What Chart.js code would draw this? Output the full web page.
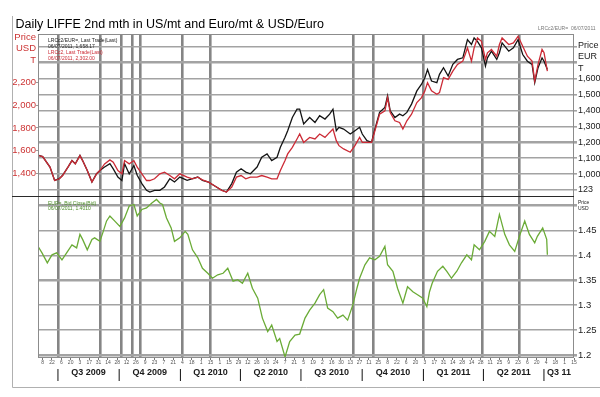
<!DOCTYPE html>
<html>
<head>
<meta charset="utf-8">
<script src="https://cdn.jsdelivr.net/npm/chart.js@4.4.0/dist/chart.umd.min.js"></script>
<style>
  html, body { margin: 0; padding: 0; background: #fff; }
</style>
</head>
<body>
<canvas id="myChart" width="600" height="397"></canvas>
<script>
/* globals Chart:false */

// weekly readings of the LIFFE 2nd month price, USD/t (red) and EUR/t (black)
var priceDates = [
  '2009-06-02','2009-06-08','2009-06-19','2009-06-26','2009-07-03','2009-07-08','2009-07-16','2009-07-22',
  '2009-07-27','2009-08-03','2009-08-07','2009-08-14','2009-08-21','2009-08-28','2009-09-02','2009-09-09',
  '2009-09-17','2009-09-22','2009-09-29','2009-10-05','2009-10-09','2009-10-16','2009-10-23','2009-10-28',
  '2009-11-04','2009-11-11','2009-11-16','2009-11-23','2009-12-01','2009-12-08','2009-12-16','2009-12-23',
  '2009-12-31','2010-01-11','2010-01-19','2010-01-27','2010-02-03','2010-02-12','2010-02-24','2010-03-04',
  '2010-03-11','2010-03-19','2010-03-26','2010-04-02','2010-04-09','2010-04-16','2010-04-26','2010-05-03',
  '2010-05-11','2010-05-18','2010-05-26','2010-05-31','2010-06-07','2010-06-11','2010-06-18','2010-06-25',
  '2010-06-29','2010-07-05','2010-07-14','2010-07-22','2010-07-29','2010-08-06','2010-08-13','2010-08-18',
  '2010-08-23','2010-08-27','2010-09-03','2010-09-13','2010-09-20','2010-09-27','2010-10-01','2010-10-08',
  '2010-10-15','2010-10-20','2010-10-27','2010-11-04','2010-11-08','2010-11-12','2010-11-19','2010-11-26',
  '2010-12-01','2010-12-07','2010-12-14','2010-12-22','2010-12-29','2011-01-03','2011-01-07','2011-01-13',
  '2011-01-21','2011-01-25','2011-01-31','2011-02-07','2011-02-14','2011-02-21','2011-03-01','2011-03-08',
  '2011-03-14','2011-03-18','2011-03-23','2011-03-29','2011-04-04','2011-04-07','2011-04-13','2011-04-21',
  '2011-04-25','2011-04-29','2011-05-09','2011-05-16','2011-05-23','2011-05-30','2011-06-06','2011-06-13',
  '2011-06-17','2011-06-22','2011-06-28','2011-07-01','2011-07-06'
];
var eurPrice = [
  1117,1110,1044,960,971,992,1044,1085,1065,1117,1085,1023,950,1002,1023,1044,
  1065,1033,981,960,1065,1002,1054,992,940,898,887,898,898,919,971,950,
  981,960,971,981,960,950,919,898,887,940,1012,1033,1012,1002,1044,1106,
  1127,1085,1106,1169,1231,1273,1356,1408,1408,1315,1356,1325,1367,1346,1377,1408,
  1273,1294,1283,1252,1273,1294,1252,1210,1200,1283,1388,1419,1492,1398,1356,1377,
  1367,1388,1440,1523,1565,1606,1658,1585,1575,1627,1669,1617,1690,1721,1731,1846,
  1815,1856,1835,1794,1679,1731,1773,1721,1763,1825,1773,1794,1846,1752,1710,1690,
  1575,1669,1731,1710,1658
];
var usdPrice = [
  1555,1546,1453,1335,1350,1379,1453,1511,1482,1555,1511,1423,1321,1394,1423,1482,
  1517,1497,1423,1394,1511,1482,1511,1453,1394,1335,1335,1350,1394,1409,1379,1350,
  1394,1365,1350,1365,1341,1321,1277,1248,1233,1277,1365,1379,1350,1365,1365,1379,
  1365,1350,1350,1423,1511,1570,1628,1702,1746,1672,1716,1702,1746,1716,1760,1790,
  1687,1643,1614,1585,1643,1716,1672,1672,1672,1775,1921,1951,2068,1936,1863,1848,
  1790,1863,1921,2024,2068,2127,2200,2127,2097,2112,2244,2229,2302,2361,2390,2507,
  2390,2507,2595,2566,2405,2464,2493,2434,2537,2595,2537,2551,2610,2522,2434,2390,
  2214,2361,2493,2464,2302
];

// USD per Euro, lower panel (green)
var fxDates = [
  '2009-06-01','2009-06-07','2009-06-15','2009-06-22','2009-06-29','2009-07-07','2009-07-14','2009-07-22',
  '2009-07-29','2009-08-03','2009-08-07','2009-08-14','2009-08-21','2009-08-25','2009-09-02','2009-09-07',
  '2009-09-12','2009-09-17','2009-09-24','2009-10-02','2009-10-09','2009-10-16','2009-10-23','2009-10-28',
  '2009-11-04','2009-11-11','2009-11-19','2009-11-26','2009-12-01','2009-12-05','2009-12-11','2009-12-18',
  '2009-12-23','2009-12-31','2010-01-08','2010-01-12','2010-01-19','2010-01-27','2010-02-03','2010-02-11',
  '2010-02-18','2010-02-26','2010-03-06','2010-03-13','2010-03-21','2010-03-28','2010-04-04','2010-04-12',
  '2010-04-19','2010-04-27','2010-05-04','2010-05-12','2010-05-18','2010-05-26','2010-05-30','2010-06-07',
  '2010-06-14','2010-06-22','2010-06-29','2010-07-07','2010-07-14','2010-07-22','2010-07-29','2010-08-04',
  '2010-08-10','2010-08-18','2010-08-25','2010-09-02','2010-09-09','2010-09-17','2010-09-23','2010-09-27',
  '2010-10-05','2010-10-12','2010-10-20','2010-10-27','2010-11-04','2010-11-08','2010-11-16','2010-11-23',
  '2010-12-01','2010-12-08','2010-12-16','2010-12-23','2010-12-31','2011-01-06','2011-01-10','2011-01-14',
  '2011-01-22','2011-01-30','2011-02-05','2011-02-12','2011-02-20','2011-02-27','2011-03-07','2011-03-14',
  '2011-03-18','2011-03-26','2011-04-03','2011-04-10','2011-04-18','2011-04-25','2011-05-03','2011-05-10',
  '2011-05-18','2011-05-25','2011-06-02','2011-06-09','2011-06-17','2011-06-21','2011-06-29','2011-07-05',
  '2011-07-06'
];
var usdEur = [
  1.418,1.405,1.385,1.401,1.405,1.391,1.405,1.421,1.415,1.442,1.432,1.411,1.432,1.435,1.428,1.448,
  1.469,1.479,1.469,1.458,1.475,1.499,1.502,1.479,1.492,1.495,1.505,1.512,1.505,1.502,1.475,1.455,
  1.428,1.435,1.448,1.442,1.411,1.395,1.374,1.364,1.354,1.361,1.364,1.374,1.348,1.351,1.344,1.364,
  1.334,1.314,1.274,1.247,1.260,1.227,1.233,1.196,1.227,1.240,1.242,1.274,1.290,1.304,1.321,1.331,
  1.294,1.287,1.274,1.280,1.270,1.301,1.334,1.354,1.381,1.395,1.391,1.398,1.418,1.381,1.368,1.334,
  1.304,1.337,1.327,1.321,1.314,1.297,1.327,1.344,1.368,1.378,1.368,1.354,1.368,1.385,1.401,1.391,
  1.421,1.411,1.428,1.448,1.438,1.482,1.442,1.421,1.408,1.438,1.469,1.442,1.425,1.438,1.455,1.432,
  1.401
];

var xStart = '2009-06-01';
var xEnd = '2011-08-15';
var quarterNames = ['Q3 2009','Q4 2009','Q1 2010','Q2 2010','Q3 2010','Q4 2010','Q1 2011','Q2 2011','Q3 11'];
var quarterStarts = ['2009-07-01','2009-10-01','2010-01-01','2010-04-01','2010-07-01','2010-10-01','2011-01-01','2011-04-01','2011-07-01'];
// the heavy vertical lines across both panels
var markDates = ['2009-07-01','2009-09-02','2009-10-04','2009-10-20','2009-11-02','2010-01-03','2010-02-15',
  '2010-09-17','2010-10-17','2010-12-31','2011-03-31','2011-05-25'];

var usdTicks = [1400, 1600, 1800, 2000, 2200, 2500];
var eurTicks = [900, 1000, 1100, 1200, 1300, 1400, 1500, 1600, 1700, 1800];
var eurLabels = ['123', '1,000', '1,100', '1,200', '1,300', '1,400', '1,500', '1,600', ['Price', 'EUR', 'T', ''], ''];
var fxTicks = [1.2, 1.25, 1.3, 1.35, 1.4, 1.45, 1.5];
var fxLabels = ['1.2', '1.25', '1.3', '1.35', '1.4', '1.45', ['Price', 'USD']];

var legendLines = [
  ['LRCc2/EUR=, Last Trade(Last)', '#222'],
  ['06/07/2011, 1,658.17', '#222'],
  ['LRCc2, Last Trade(Last)', '#cc2b36'],
  ['06/07/2011, 2,302.00', '#cc2b36']
];
var fxLegendLines = ['EUR=, Bid Close(Bid)', '06/07/2011, 1.4010'];


function day(s) {
  return (Date.parse(s) - Date.parse('2009-07-01')) / 864e5;
}

function pts(dates, values) {
  return dates.map(function (d, i) {
    return {x: day(d), y: values[i]};
  });
}

function tickList(values) {
  return values.map(function (v) { return {value: v}; });
}

// small date ticks every two weeks
var smallTicks = [];
for (var t = day('2009-06-08'); t <= day(xEnd); t += 14) {
  smallTicks.push(t);
}

// quarter separators and quarter names
var quarterTicks = [];
quarterStarts.forEach(function (q, i) {
  var a = day(q);
  var b = i + 1 < quarterStarts.length ? day(quarterStarts[i + 1]) : day(xEnd);
  quarterTicks.push({value: a, text: '|', sep: true});
  quarterTicks.push({value: (a + b) / 2, text: quarterNames[i], sep: false});
});

var framePlugin = {
  id: 'frame',
  beforeDraw: function (chart) {
    var ctx = chart.ctx;
    ctx.save();
    ctx.fillStyle = '#fff';
    ctx.fillRect(0, 0, chart.width, chart.height);
    ctx.restore();
  },
  afterDraw: function (chart) {
    var ctx = chart.ctx;
    var a = chart.chartArea;
    var split = Math.round(chart.scales.fx.top) + 0.5;
    ctx.save();
    // outer frame
    ctx.strokeStyle = '#b0b0b0';
    ctx.lineWidth = 1;
    ctx.beginPath();
    ctx.moveTo(12.5, 16);
    ctx.lineTo(12.5, 387.5);
    ctx.lineTo(600, 387.5);
    ctx.stroke();
    // plot border
    ctx.strokeStyle = '#8c8c8c';
    ctx.strokeRect(a.left + 0.5, a.top + 0.5, a.width - 1, a.height - 1);
    // line between the panels
    ctx.strokeStyle = '#2a2a2a';
    ctx.lineWidth = 1.2;
    ctx.beginPath();
    ctx.moveTo(12, split);
    ctx.lineTo(a.right, split);
    ctx.stroke();
    // legends
    ctx.font = '5px Arial';
    ctx.textBaseline = 'middle';
    legendLines.forEach(function (l, i) {
      ctx.fillStyle = l[1];
      ctx.fillText(l[0], a.left + 10, a.top + 7 + i * 6);
    });
    ctx.fillStyle = '#4f8f2a';
    fxLegendLines.forEach(function (l, i) {
      ctx.fillText(l, a.left + 10, chart.scales.fx.top + 8 + i * 5);
    });
    ctx.fillStyle = '#777';
    ctx.fillText('LRCc2/EUR=  06/07/2011', a.right - 36, a.top - 5);
    ctx.restore();
  }
};

Chart.defaults.font.family = 'Arial, "Liberation Sans", sans-serif';

var ctx = document.getElementById('myChart');
var myChart = new Chart(ctx, {
  type: 'line',
  data: {
    datasets: [{
      label: 'USD/t',
      data: pts(priceDates, usdPrice),
      yAxisID: 'usd',
      borderColor: '#cc2b36',
      borderWidth: 1.3,
      pointRadius: 0,
      lineTension: 0
    }, {
      label: 'EUR/t',
      data: pts(priceDates, eurPrice),
      yAxisID: 'eur',
      borderColor: '#141414',
      borderWidth: 1.3,
      pointRadius: 0,
      lineTension: 0
    }, {
      label: 'USD/EUR',
      data: pts(fxDates, usdEur),
      yAxisID: 'fx',
      borderColor: '#6aab36',
      borderWidth: 1.3,
      pointRadius: 0,
      lineTension: 0
    }]
  },
  options: {
    responsive: false,
    animation: false,
    events: [],
    layout: { padding: { left: 12, right: 0, top: 0, bottom: 15 } },
    plugins: {
      legend: { display: false },
      tooltip: { enabled: false },
      title: {
        display: true,
        text: ' Daily LIFFE 2nd mth in US/mt and Euro/mt & USD/Euro',
        align: 'start',
        color: '#000',
        font: { size: 12.5, weight: 'normal' },
        padding: { top: 17, bottom: 2 }
      }
    },
    scales: {
      xg: {
        type: 'linear', position: 'bottom', weight: 0,
        min: day(xStart), max: day(xEnd),
        afterBuildTicks: function (s) { s.ticks = tickList(markDates.map(day)); },
        ticks: { display: false },
        grid: { color: '#858585', lineWidth: 2.6, drawTicks: false },
        border: { display: false },
        afterFit: function (s) { s.height = 0; }
      },
      x: {
        type: 'linear', position: 'bottom', weight: 1,
        min: day(xStart), max: day(xEnd),
        afterBuildTicks: function (s) { s.ticks = tickList(smallTicks); },
        ticks: {
          autoSkip: false, maxRotation: 0, minRotation: 0, padding: 0,
          color: '#555', font: { size: 5 },
          callback: function (v) {
            return String(new Date(Date.parse('2009-07-01') + v * 864e5).getUTCDate());
          }
        },
        grid: { drawOnChartArea: false, tickLength: 2, color: '#777' },
        border: { display: false },
        afterFit: function (s) { s.height = 8; }
      },
      xq: {
        type: 'linear', position: 'bottom', weight: 2,
        min: day(xStart), max: day(xEnd),
        afterBuildTicks: function (s) { s.ticks = quarterTicks.slice(); },
        ticks: {
          autoSkip: false, maxRotation: 0, minRotation: 0, padding: 1,
          color: '#1a1a1a',
          font: function (c) {
            return c.tick && c.tick.sep ? { size: 13 } : { size: 9, weight: 'bold' };
          },
          callback: function (v, i, ticks) { return ticks[i].text; }
        },
        grid: { display: false, drawTicks: false },
        border: { display: false },
        afterFit: function (s) { s.height = 16; }
      },
      usd: {
        type: 'linear', position: 'left', stack: 'left', stackWeight: 1, weight: 1,
        min: 1198, max: 2630,
        afterBuildTicks: function (s) { s.ticks = tickList(usdTicks); },
        ticks: {
          autoSkip: false,
          color: '#cc3333', font: { size: 9.5 }, padding: 0,
          callback: function (v) { return v === 2500 ? ['Price', 'USD', 'T'] : v.toLocaleString('en-US'); }
        },
        grid: {
          drawOnChartArea: false, tickLength: 2,
          color: function (c) { return c.tick && c.tick.value === 2500 ? 'rgba(0,0,0,0)' : '#999'; }
        },
        border: { display: false },
        afterFit: function (s) { s.width = 26; }
      },
      usdLow: {
        type: 'linear', position: 'left', stack: 'left', stackWeight: 1, weight: 0,
        min: 0, max: 1,
        ticks: { display: false },
        grid: { display: false, drawTicks: false },
        border: { display: false },
        afterFit: function (s) { s.width = 26; }
      },
      eur: {
        type: 'linear', position: 'right', stack: 'right', stackWeight: 1, weight: 0,
        min: 862, max: 1881,
        afterBuildTicks: function (s) { s.ticks = tickList(eurTicks); },
        ticks: {
          autoSkip: false,
          color: '#222', padding: 1,
          font: function (c) { return c.index === 8 ? { size: 9, lineHeight: 1.3 } : { size: 9 }; },
          callback: function (v, i) { return eurLabels[i]; }
        },
        grid: {
          tickLength: 3, color: '#a3a3a3',
          lineWidth: function (c) { return c.tick && (c.tick.value === 1700 || c.tick.value === 1200) ? 2.6 : 1.6; }
        },
        border: { display: false },
        afterFit: function (s) { s.width = 26; }
      },
      fx: {
        type: 'linear', position: 'right', stack: 'right', stackWeight: 1, weight: 1,
        min: 1.194, max: 1.519,
        afterBuildTicks: function (s) { s.ticks = tickList(fxTicks); },
        ticks: {
          autoSkip: false,
          color: '#222', padding: 1,
          font: function (c) { return c.index === 6 ? { size: 5 } : { size: 9.5 }; },
          callback: function (v, i) { return fxLabels[i]; }
        },
        grid: {
          tickLength: 3, color: '#a3a3a3',
          lineWidth: function (c) { return c.tick && (c.index === 6 || c.index === 3 || c.index === 0) ? 2.6 : 1.6; }
        },
        border: { display: false },
        afterFit: function (s) { s.width = 26; }
      }
    }
  },
  plugins: [framePlugin]
});
</script>
</body>
</html>
